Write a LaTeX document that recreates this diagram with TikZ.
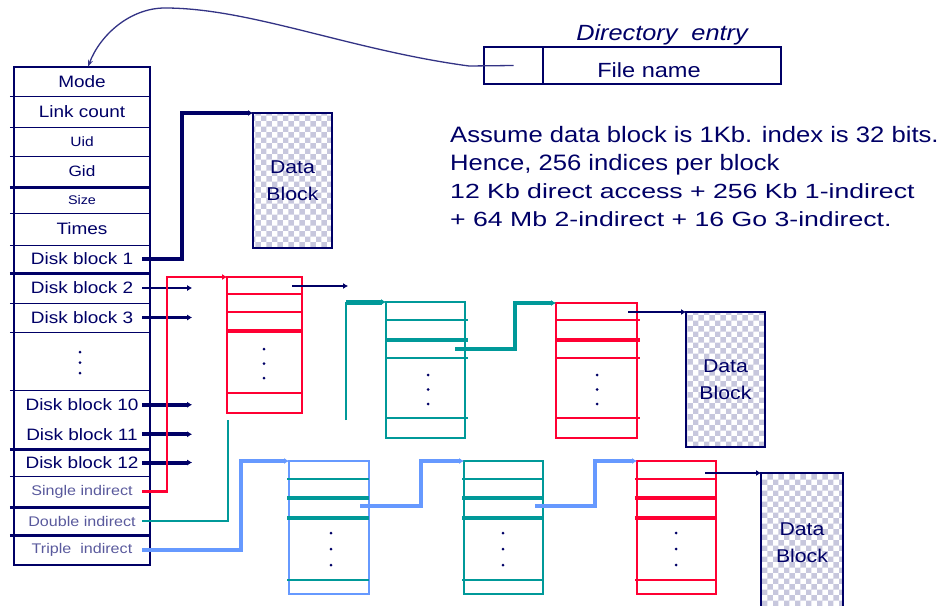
\documentclass[tikz,border=0pt]{standalone}
\usepackage{fontspec}
\newfontfamily\lblfont{Liberation Sans}[FakeStretch=1.15]
\newfontfamily\notefont{Liberation Sans}[FakeStretch=1.3]
\usetikzlibrary{arrows.meta,patterns}
\definecolor{inknavy}{HTML}{000066}
\definecolor{ptrred}{HTML}{FF0033}
\definecolor{ptrteal}{HTML}{009999}
\definecolor{ptrblue}{HTML}{6699FF}
\newcommand{\lblsize}[1]{\lblfont\fontsize{#1}{#1}\selectfont}
\tikzset{cell/.style={minimum width=136,minimum height=#1,inner sep=0,text=inknavy,font=\lblsize{16.5}},indir/.style={text=inknavy!65,font=\lblsize{14}},sepline/.style={draw=inknavy,line width=1.4pt},septhick/.style={draw=inknavy,line width=3.4pt},idxbox/.style={draw=#1,line width=2.5pt,inner sep=0,outer sep=0,anchor=north west},idxline/.style={draw=#1,line width=1.6pt},idxthick/.style={draw=#1,line width=4pt},datablock/.style={draw=inknavy,line width=2.2pt,pattern=checkerboard,pattern color=inknavy!22,minimum width=79,inner sep=0,outer sep=0,anchor=north west,text=inknavy,align=center,font=\lblfont\fontsize{18.5}{27}\selectfont},dirbox/.style={draw=inknavy,line width=2pt,minimum height=37,inner sep=0,outer sep=0},ptr/.style={-{Latex[length=5pt,width=6pt]}},notetext/.style={anchor=base west,inner sep=0,text=inknavy}}

\begin{document}
\begin{tikzpicture}[x=1pt,y=-1pt]
\useasboundingbox (0,0) rectangle (944,605);
% i-node table
\node[cell=29] (mode) at (82,81.5) {Mode};
\node[cell=31] (links) at (82,111.5) {Link count};
\node[cell=29,font=\lblsize{13.5}] (uid) at (82,141.5) {Uid};
\node[cell=31,font=\lblsize{15}] (gid) at (82,171.5) {Gid};
\node[cell=26,font=\lblsize{12.5}] (size) at (82,200) {Size};
\node[cell=32] (times) at (82,229) {Times};
\node[cell=28] (db1) at (82,259) {Disk block 1};
\node[cell=30] (db2) at (82,288) {Disk block 2};
\node[cell=29] (db3) at (82,317.5) {Disk block 3};
\node[cell=58] (dots) at (82,361) {};
\node[cell=29.5] (db10) at (82,404.75) {Disk block 10};
\node[cell=29.5] (db11) at (82,434.25) {Disk block 11};
\node[cell=27] (db12) at (82,462.5) {Disk block 12};
\node[cell=31,indir] (sgl) at (82,491.5) {Single indirect};
\node[cell=28,indir] (dbl) at (82,521) {Double indirect};
\node[cell=30,indir] (tpl) at (82,550) {Triple\ \ indirect};
\draw[inknavy,line width=2pt] (mode.north west) rectangle (tpl.south east);
\foreach \c in {mode,links,uid,size,times,db2,db3,dots,db12}
  \draw[sepline] ([xshift=-4pt]\c.south west) -- (\c.south east);
\foreach \c in {gid,db1,db11,sgl,dbl}
  \draw[septhick] ([xshift=-4pt]\c.south west) -- (\c.south east);

% directory entry
\node[dirbox,minimum width=59,anchor=north west] (dirptr) at (484,47) {};
\node[dirbox,minimum width=238,anchor=west] (dirname) at (dirptr.east) {};
\node[anchor=base,inner sep=0,text=inknavy,font=\lblsize{20.5}] (fname) at (649,77) {File name};
\node[anchor=base,inner sep=0,text=inknavy,font=\lblsize{22}\itshape] (dirlbl) at (662,40) {Directory\ \ entry};
\draw[inknavy!80,line width=1.3pt,-{Stealth[length=7pt,width=5pt]}] (dirptr.center) -- (469,66) .. controls (350,50) and (250,8) .. (165,8) .. controls (130,8) and (100,35) .. ([xshift=6pt]mode.north);

% note
\node[notetext,font=\lblsize{22.3}] (note1) at (450,142) {Assume data block is 1Kb. index is 32 bits.};
\node[notetext,font=\lblsize{22.3}] (note2) at (450,170) {Hence, 256 indices per block};
\node[notetext,font=\notefont\fontsize{20.5}{20.5}\selectfont] (note3) at (450,198) {12 Kb direct access + 256 Kb 1-indirect};
\node[notetext,font=\notefont\fontsize{20.5}{20.5}\selectfont] (note4) at (450,226) {+ 64 Mb 2-indirect + 16 Go 3-indirect.};

% data blocks
\node[datablock,minimum height=135] (data1) at (253,113) {Data\\Block};
\node[datablock,minimum height=135] (data2) at (686,312) {Data\\Block};
\node[datablock,minimum width=82,minimum height=140] (data3) at (761,473) {Data\\Block};

% index blocks
\node[idxbox=ptrred,minimum width=75,minimum height=136] (ind1) at (227,277) {};
\node[idxbox=ptrteal,minimum width=79,minimum height=136] (dind1) at (386,302) {};
\node[idxbox=ptrred,minimum width=81,minimum height=135] (dind2) at (556,303) {};
\node[idxbox=ptrblue,minimum width=80,minimum height=133] (tind1) at (289,461) {};
\node[idxbox=ptrteal,minimum width=79,minimum height=133] (tind2) at (464,461) {};
\node[idxbox=ptrred,minimum width=79,minimum height=133] (tind3) at (637,461) {};
\foreach \y in {294,312,393} \draw[idxline=ptrred] (ind1.west |- 0,\y) -- (ind1.east |- 0,\y);
\draw[idxthick=ptrred] (ind1.west |- 0,331) -- (ind1.east |- 0,331);
\foreach \b/\c in {dind1/ptrteal,dind2/ptrred} {
  \foreach \y in {320,358,418} \draw[idxline=\c] (\b.west |- 0,\y) -- ([xshift=3pt]\b.east |- 0,\y);
  \draw[idxthick=\c] (\b.west |- 0,340) -- ([xshift=3pt]\b.east |- 0,340);
}
\foreach \b/\c in {tind1/ptrteal,tind2/ptrteal,tind3/ptrred} {
  \foreach \y in {479,580} \draw[idxline=\c] ([xshift=-2pt]\b.west |- 0,\y) -- (\b.east |- 0,\y);
  \foreach \y in {498,518} \draw[idxthick=\c] ([xshift=-2pt]\b.west |- 0,\y) -- (\b.east |- 0,\y);
}
\foreach \dx/\dy/\ds in {80/352/10.5,264/349/14.5,428/375/14.5,597/375/14.5,331/533/16,503/533/16,676/533/16}
  \foreach \k in {0,1,2} \fill[inknavy] (\dx,{\dy+\ds*\k}) circle (1.5);

% direct pointers
\draw[inknavy,ptr,line width=4pt] ([xshift=-8pt]db1.east) -| ([xshift=-71pt]data1.north west) -- (data1.north west);
\foreach \c/\w in {db2/2.5,db3/2.5,db10/4,db11/4,db12/4}
  \draw[inknavy,ptr,line width=\w pt] ([xshift=-8pt]\c.east) -- ([xshift=42pt]\c.east);
\draw[inknavy,ptr,line width=2pt] ([xshift=-10pt]ind1.east |- 0,286) -- ([xshift=46pt]ind1.east |- 0,286);
\draw[inknavy,ptr,line width=2pt] ([xshift=-9pt]dind2.east |- data2.north west) -- (data2.north west);
\draw[inknavy,ptr,line width=2pt] ([xshift=-11pt]tind3.east |- data3.north west) -- (data3.north west);

% single indirect
\draw[ptrred,ptr,line width=2.2pt] ([xshift=-8pt]sgl.east) -| ([xshift=-60pt]ind1.north west) -- (ind1.north west);

% double indirect
\coordinate (dblcut) at (228,420);
\coordinate (dblup) at (346,420);
\draw[ptrteal,line width=2.6pt] ([xshift=-8pt]dbl.east) -| (dblcut);
\draw[ptrteal,line width=2pt] (dblup) -- (dblup |- dind1.north west);
\draw[ptrteal,ptr,line width=5pt] (dblup |- dind1.north west) -- (dind1.north west);
\draw[ptrteal,ptr,line width=4pt] ([xshift=-10pt]dind1.east |- 0,349) -| ([xshift=-41pt]dind2.north west) -- (dind2.north west);

% triple indirect
\draw[ptrblue,ptr,line width=4.5pt] ([xshift=-8pt]tpl.east) -| ([xshift=-48pt]tind1.north west) -- (tind1.north west);
\draw[ptrblue,ptr,line width=3.5pt] ([xshift=-9pt]tind1.east |- 0,506) -| ([xshift=-43pt]tind2.north west) -- (tind2.north west);
\draw[ptrblue,ptr,line width=3.5pt] ([xshift=-8pt]tind2.east |- 0,506) -| ([xshift=-42pt]tind3.north west) -- (tind3.north west);
\end{tikzpicture}
\end{document}
